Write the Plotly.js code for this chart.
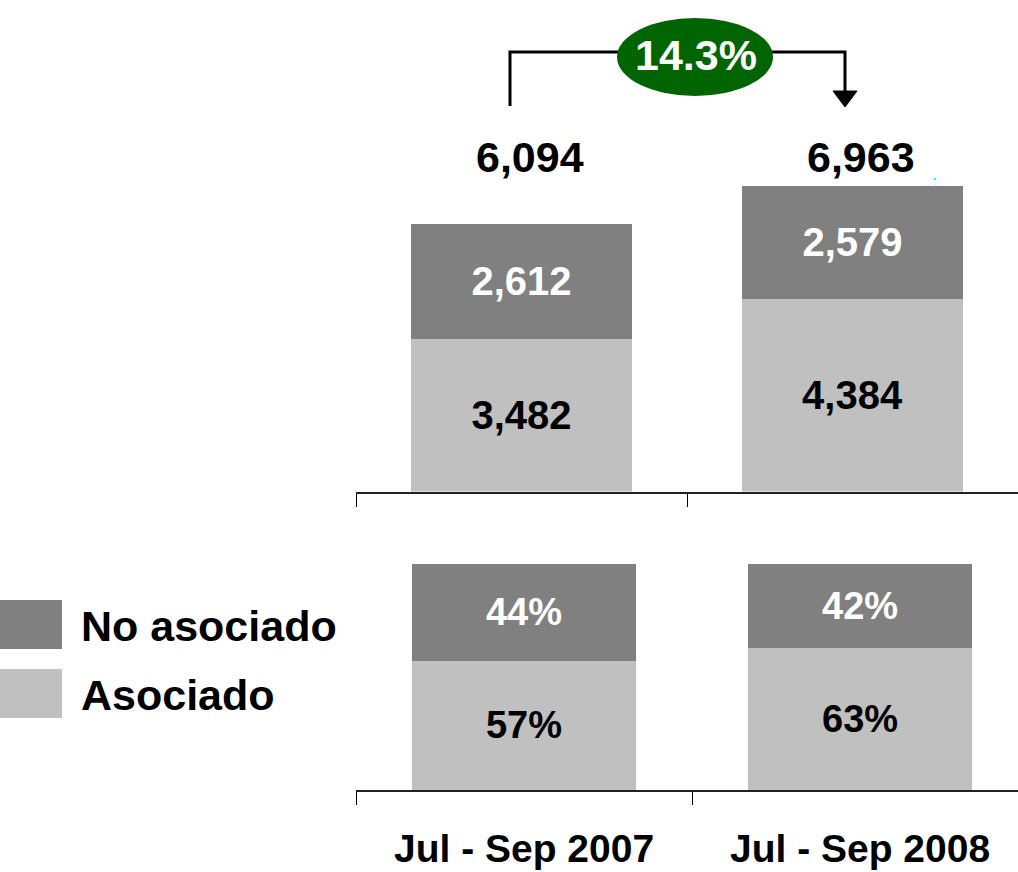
<!DOCTYPE html>
<html>
<head>
<meta charset="utf-8">
<script src="https://cdn.plot.ly/plotly-3.0.1.min.js"></script>
<style>html,body{margin:0;padding:0;background:#fff;}#chart{width:1018px;height:872px;}</style>
</head>
<body>
<div id="chart"></div>
<script>
// ---- data ----
var categories = ["Jul - Sep 2007", "Jul - Sep 2008"];
var asociado = [3482, 4384];
var noAsociado = [2612, 2579];
var asociadoPct = [57.1, 63.0];
var noAsociadoPct = [42.9, 37.0];
var asociadoPctLabels = ["57%", "63%"];
var noAsociadoPctLabels = ["44%", "42%"];
var seriesNames = ["No asociado", "Asociado"];

// ---- helpers ----
var W = 1018, H = 872;
function fx(px) { return px / W; }
function fy(py) { return 1 - py / H; }
var FONT = "Liberation Sans, Arial, sans-serif";
var DARK = "#808080", LIGHT = "#C0C0C0";

var totals = asociado.map(function (v, i) { return v + noAsociado[i]; });
var growth = (totals[1] / totals[0] - 1) * 100;
function fmt(n) { return n.toLocaleString("en-US"); }

var font = function (c, s) { return { family: FONT, size: s || 40, color: c, weight: "bold" }; };

var traces = [
  { type: "bar", x: categories, y: asociado, name: seriesNames[1], xaxis: "x", yaxis: "y",
    marker: { color: LIGHT, line: { width: 0 } }, width: 0.665,
    texttemplate: "%{y:,}", textposition: "inside", insidetextanchor: "middle", textangle: 0,
    insidetextfont: font("#000", 40), hoverinfo: "skip", showlegend: false },
  { type: "bar", x: categories, y: noAsociado, name: seriesNames[0], xaxis: "x", yaxis: "y",
    marker: { color: DARK, line: { width: 0 } }, width: 0.665,
    texttemplate: "%{y:,}", textposition: "inside", insidetextanchor: "middle", textangle: 0,
    insidetextfont: font("#fff", 40), hoverinfo: "skip", showlegend: false },
  { type: "bar", x: categories, y: asociadoPct, name: seriesNames[1], xaxis: "x2", yaxis: "y2",
    marker: { color: LIGHT, line: { width: 0 } }, width: 0.667,
    text: asociadoPctLabels, texttemplate: "%{text}", textposition: "inside", insidetextanchor: "middle", textangle: 0,
    insidetextfont: font("#000", 38), hoverinfo: "skip", showlegend: false },
  { type: "bar", x: categories, y: noAsociadoPct, name: seriesNames[0], xaxis: "x2", yaxis: "y2",
    marker: { color: DARK, line: { width: 0 } }, width: 0.667,
    text: noAsociadoPctLabels, texttemplate: "%{text}", textposition: "inside", insidetextanchor: "middle", textangle: 0,
    insidetextfont: font("#fff", 38), hoverinfo: "skip", showlegend: false }
];

var annotations = [];
categories.forEach(function (c, i) {
  annotations.push({ xref: "x", yref: "paper", x: c, y: fy(157), yanchor: "middle", xanchor: "center", xshift: 8,
    text: "<b>" + fmt(totals[i]) + "</b>", showarrow: false, font: font("#000", 43) });
});
annotations.push({ xref: "paper", yref: "paper", x: fx(696), y: fy(55), xanchor: "center", yanchor: "middle",
  text: "<b>" + growth.toFixed(1) + "%</b>", showarrow: false, font: font("#fff", 43) });
annotations.push({ xref: "paper", yref: "paper", x: fx(79), y: fy(626), xanchor: "left", yanchor: "middle",
  text: "<b>" + seriesNames[0] + "</b>", showarrow: false, font: font("#000", 43) });
annotations.push({ xref: "paper", yref: "paper", x: fx(79), y: fy(695), xanchor: "left", yanchor: "middle",
  text: "<b>" + seriesNames[1] + "</b>", showarrow: false, font: font("#000", 43) });

var path = "M " + fx(510) + " " + fy(106) + " L " + fx(510) + " " + fy(52) + " L " + fx(845) + " " + fy(52) + " L " + fx(845) + " " + fy(92);
var head = "M " + fx(833) + " " + fy(91) + " L " + fx(857) + " " + fy(91) + " L " + fx(845) + " " + fy(107) + " Z";

var shapes = [
  { type: "path", xref: "paper", yref: "paper", path: path, line: { color: "#000", width: 3 } },
  { type: "path", xref: "paper", yref: "paper", path: head, fillcolor: "#000", line: { color: "#000", width: 1 } },
  { type: "circle", xref: "paper", yref: "paper", x0: fx(617), x1: fx(773), y0: fy(18), y1: fy(96),
    fillcolor: "#006400", line: { width: 0 } },
  { type: "rect", xref: "paper", yref: "paper", x0: fx(0), x1: fx(62), y0: fy(600), y1: fy(649),
    fillcolor: DARK, line: { width: 0 } },
  { type: "rect", xref: "paper", yref: "paper", x0: fx(0), x1: fx(62), y0: fy(669), y1: fy(718),
    fillcolor: LIGHT, line: { width: 0 } },
  { type: "rect", xref: "paper", yref: "paper", x0: fx(934), x1: fx(936), y0: fy(178), y1: fy(180),
    fillcolor: "#00FFFF", line: { width: 0 } }
];

var layout = {
  width: W, height: H,
  margin: { l: 0, r: 0, t: 0, b: 0 },
  paper_bgcolor: "#fff", plot_bgcolor: "rgba(0,0,0,0)",
  barmode: "stack", showlegend: false,
  xaxis: { domain: [fx(356), 1], range: [-0.5, 1.5], anchor: "y", type: "category",
    showline: true, linecolor: "#222", linewidth: 2, ticks: "outside", tickson: "boundaries",
    ticklen: 13, tickwidth: 1, tickcolor: "#000", showticklabels: false, showgrid: false, zeroline: false, fixedrange: true },
  yaxis: { domain: [fy(491.5), 1], range: [0, 11196], anchor: "x", visible: false, fixedrange: true },
  xaxis2: { domain: [fx(356), 1], range: [-0.5, 1.47], anchor: "y2", type: "category",
    showline: true, linecolor: "#222", linewidth: 2, ticks: "outside", tickson: "boundaries",
    ticklen: 13, tickwidth: 1, tickcolor: "#000", showgrid: false, zeroline: false,
    tickfont: font("#000", 39), ticklabelstandoff: 23, fixedrange: true },
  yaxis2: { domain: [fy(790), fy(564)], range: [0, 100], anchor: "x2", visible: false, fixedrange: true },
  annotations: annotations,
  shapes: shapes,
  hovermode: false
};

Plotly.newPlot("chart", traces, layout, { displayModeBar: false, staticPlot: true });
</script>
</body>
</html>
